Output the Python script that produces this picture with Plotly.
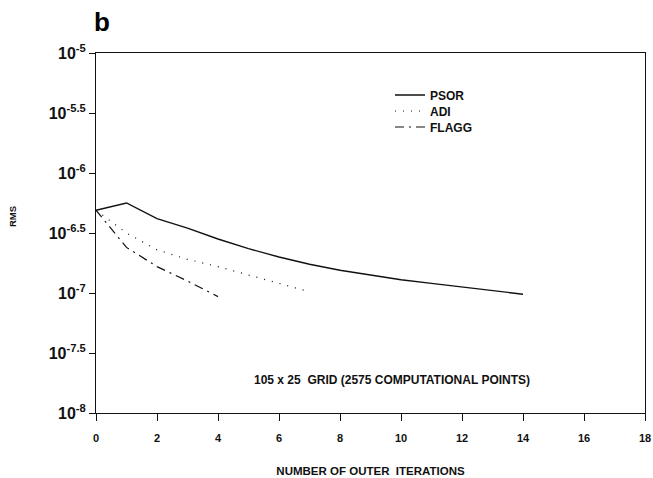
import plotly.graph_objects as go

iters_psor = list(range(0, 15))
psor_log = [-6.31, -6.25, -6.38, -6.46, -6.55, -6.63, -6.70, -6.76, -6.81, -6.85, -6.89, -6.92, -6.95, -6.98, -7.01]
iters_adi = list(range(0, 8))
adi_log = [-6.31, -6.50, -6.64, -6.72, -6.78, -6.85, -6.92, -6.99]
iters_flagg = list(range(0, 5))
flagg_log = [-6.31, -6.62, -6.78, -6.90, -7.03]

x_ticks = [0, 2, 4, 6, 8, 10, 12, 14, 16, 18]
y_tick_exps = [-5, -5.5, -6, -6.5, -7, -7.5, -8]

FONT = "Liberation Sans, Arial, sans-serif"
INK = "#111111"

L, R, T, B = 96, 8, 53, 65
W, H = 653, 478
PW, PH = W - L - R, H - T - B


def px_x(px):  # page x pixel -> paper coordinate
    return (px - L) / PW


def px_y(py):  # page y pixel -> paper coordinate
    return (T + PH - py) / PH


fig = go.Figure()
fig.add_trace(go.Scatter(x=iters_psor, y=[10**v for v in psor_log], mode="lines", name="<b>PSOR</b>",
                         line=dict(color=INK, width=1.4), legend="legend"))
fig.add_trace(go.Scatter(x=iters_adi, y=[10**v for v in adi_log], mode="lines", name="<b>ADI</b>",
                         line=dict(color=INK, width=1.2, dash="1px,7px"), legend="legend2"))
fig.add_trace(go.Scatter(x=iters_flagg, y=[10**v for v in flagg_log], mode="lines", name="<b>FLAGG</b>",
                         line=dict(color=INK, width=1.2, dash="9px,5px,2px,5px"), legend="legend3"))

fig.add_annotation(x=9.7, y=-7.725, xref="x", yref="y",
                   text="<b>105 x 25  GRID (2575 COMPUTATIONAL POINTS)</b>", showarrow=False,
                   font=dict(family=FONT, size=12, color=INK))
fig.add_annotation(x=px_x(102), y=px_y(22), xref="paper", yref="paper",
                   xanchor="center", yanchor="middle", text="<b>b</b>", showarrow=False,
                   font=dict(family=FONT, size=26, color="black"))
fig.add_annotation(x=px_x(12), y=px_y(217), xref="paper", yref="paper",
                   xanchor="center", yanchor="middle", text="<b>RMS</b>", textangle=-90, showarrow=False,
                   font=dict(family=FONT, size=9.5, color=INK))

leg_common = dict(xanchor="left", yanchor="middle", bgcolor="rgba(0,0,0,0)",
                  font=dict(family=FONT, size=12, color=INK))

fig.update_layout(
    width=W, height=H,
    margin=dict(l=L, r=R, t=T, b=B, autoexpand=False),
    paper_bgcolor="white", plot_bgcolor="white",
    font=dict(family=FONT, color=INK),
    showlegend=True,
    legend=dict(x=px_x(390), y=px_y(95), **leg_common),
    legend2=dict(x=px_x(390), y=px_y(111), **leg_common),
    legend3=dict(x=px_x(390), y=px_y(127), **leg_common),
    xaxis=dict(range=[0, 18], tickvals=x_ticks, ticktext=[f"<b>{t}</b>" for t in x_ticks],
               ticks="outside", ticklen=7, tickcolor=INK, showline=True, linecolor=INK, linewidth=1,
               mirror=True, showgrid=False, zeroline=False, automargin=False, ticklabelstandoff=8,
               tickfont=dict(family=FONT, size=11, color=INK),
               title=dict(text="<b>NUMBER OF OUTER  ITERATIONS</b>", font=dict(family=FONT, size=11.5, color=INK),
                          standoff=23)),
    yaxis=dict(type="log", range=[-8, -5], tickvals=[10**e for e in y_tick_exps],
               ticktext=[f"<b>10<sup>{e:g}</sup></b>" for e in y_tick_exps],
               ticks="outside", ticklen=6, tickcolor=INK, showline=True, linecolor=INK, linewidth=1,
               mirror=True, showgrid=False, zeroline=False, automargin=False,
               tickfont=dict(family=FONT, size=16, color=INK)),
)

fig.write_html("out.html", config={"displayModeBar": False},
               post_script="document.body.style.margin='0';document.body.style.overflow='hidden';")
